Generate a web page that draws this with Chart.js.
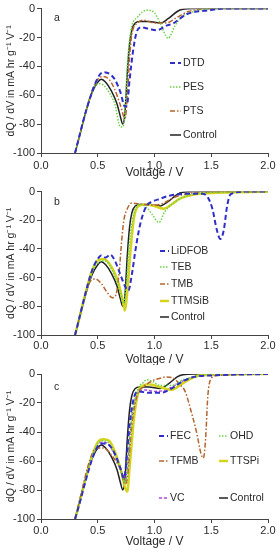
<!DOCTYPE html>
<html>
<head>
<meta charset="utf-8">
<script src="https://cdn.jsdelivr.net/npm/chart.js@4.4.1/dist/chart.umd.min.js"></script>
<style>
  body { margin: 0; background: #fff; }
  canvas { position: absolute; left: 0; }
</style>
</head>
<body>
<canvas id="chartA" width="279" height="183" style="top:0"></canvas>
<canvas id="chartB" width="279" height="182" style="top:183px"></canvas>
<canvas id="chartC" width="279" height="185" style="top:365px"></canvas>
<script>
// ─── Data (voltage, dQ/dV) ───────────────────────────
const xTicks = [0, 0.5, 1.0, 1.5, 2.0];
const yTicks = [0, -20, -40, -60, -80, -100];

const control = [[0.30,-100],[0.35,-85],[0.40,-70],[0.45,-58],[0.50,-51],[0.53,-49],[0.57,-51],[0.62,-57],[0.67,-66],[0.70,-75],[0.72,-80],[0.74,-72],[0.76,-45],[0.78,-25],[0.80,-15],[0.83,-10],[0.87,-9],[0.95,-9],[1.05,-10],[1.12,-7],[1.20,-2],[1.25,-0.5],[1.35,0],[2.0,0]];

// panel a
const dtd = [[0.30,-100],[0.40,-70],[0.50,-48],[0.55,-44],[0.60,-45],[0.65,-49],[0.70,-58],[0.74,-68],[0.76,-66],[0.78,-50],[0.81,-30],[0.84,-17],[0.88,-13],[0.95,-14],[1.02,-15],[1.10,-12],[1.17,-10],[1.28,-4],[1.50,-1],[1.6,0],[2.0,0]];
const pes = [[0.30,-100],[0.45,-58],[0.50,-52],[0.55,-53],[0.60,-58],[0.65,-66],[0.70,-82],[0.72,-82],[0.74,-72],[0.76,-40],[0.78,-22],[0.80,-12],[0.85,-6],[0.90,-2],[0.94,-1],[1.00,-3],[1.05,-10],[1.12,-20.5],[1.18,-12],[1.25,-5],[1.35,-2],[1.5,0],[2.0,0]];
const pts = [[0.30,-100],[0.45,-57],[0.50,-49],[0.55,-47],[0.60,-49],[0.65,-56],[0.70,-67],[0.74,-76],[0.76,-62],[0.78,-35],[0.80,-18],[0.85,-10],[0.90,-8],[1.00,-10],[1.10,-10],[1.20,-6],[1.30,-2],[1.5,0],[2.0,0]];

// panel b
const lidfob = [[0.30,-100],[0.45,-55],[0.50,-47],[0.53,-44.5],[0.57,-46],[0.61,-44],[0.65,-48],[0.70,-58],[0.74,-66],[0.77,-69],[0.80,-58],[0.83,-42],[0.86,-28],[0.89,-18],[0.93,-10],[0.98,-7],[1.05,-5],[1.12,-3],[1.20,-2],[1.30,-1.5],[1.42,-1.5],[1.47,-4],[1.51,-12],[1.55,-27],[1.58,-33],[1.61,-27],[1.64,-10],[1.67,-2],[1.8,0],[2.0,0]];
const teb = [[0.30,-100],[0.45,-56],[0.50,-50],[0.55,-48],[0.60,-51],[0.70,-70],[0.73,-78],[0.75,-66],[0.78,-35],[0.82,-15],[0.87,-9],[0.93,-11],[0.98,-16],[1.04,-21.5],[1.09,-14],[1.15,-9],[1.25,-4],[1.4,-1],[2.0,0]];
const tmb = [[0.30,-100],[0.38,-75],[0.43,-63],[0.48,-61],[0.53,-64],[0.58,-70],[0.63,-74],[0.66,-72],[0.69,-55],[0.71,-35],[0.73,-20],[0.76,-12],[0.80,-8],[0.90,-9],[1.00,-9.5],[1.08,-8],[1.15,-5],[1.25,-2],[1.4,-0.5],[2.0,0]];
const ttmsib = [[0.30,-100],[0.45,-55],[0.50,-48],[0.55,-47],[0.60,-50],[0.68,-63],[0.72,-76],[0.74,-83],[0.76,-70],[0.79,-40],[0.82,-18],[0.86,-10],[0.92,-9],[1.00,-10],[1.08,-12],[1.15,-9],[1.22,-5],[1.35,-2],[1.5,-1],[2.0,0]];

// panel c
const fec = [[0.30,-100],[0.50,-50],[0.55,-48],[0.60,-49],[0.65,-55],[0.70,-65],[0.73,-72],[0.75,-62],[0.78,-35],[0.82,-16],[0.86,-12],[0.95,-13],[1.05,-13],[1.15,-10],[1.25,-5],[1.35,-2],[1.5,-1],[2.0,0]];
const ohd = [[0.30,-100],[0.50,-48],[0.55,-46],[0.60,-48],[0.70,-66],[0.74,-75],[0.76,-65],[0.80,-30],[0.85,-11],[0.90,-6],[0.93,-4],[0.98,-5],[1.05,-8],[1.15,-8],[1.25,-4],[1.35,-2],[1.5,0],[2.0,0]];
const tfmb = [[0.30,-100],[0.45,-55],[0.50,-51],[0.55,-51],[0.60,-54],[0.70,-66],[0.74,-76],[0.76,-72],[0.80,-35],[0.85,-14],[0.90,-9],[0.95,-6],[1.00,-4],[1.05,-3],[1.10,-2],[1.17,-3],[1.22,-7],[1.27,-12],[1.32,-25],[1.37,-40],[1.41,-55],[1.43,-58],[1.45,-45],[1.47,-15],[1.50,-3],[1.55,-1],[2.0,0]];
const ttspi = [[0.30,-100],[0.50,-47],[0.55,-45],[0.60,-46],[0.70,-65],[0.74,-78],[0.76,-81],[0.78,-65],[0.82,-30],[0.86,-12],[0.90,-8],[0.95,-7],[1.05,-9],[1.15,-11],[1.20,-9],[1.30,-4],[1.4,-1],[2.0,0]];
const vc = [[0.30,-100],[0.50,-49],[0.55,-47],[0.60,-49],[0.70,-65],[0.74,-75],[0.76,-65],[0.80,-30],[0.85,-14],[0.92,-11],[1.00,-12],[1.10,-11],[1.20,-7],[1.30,-3],[1.45,-1],[2.0,0]];

// ─── Styles ──────────────────────────────────────────
const FONT = "'Liberation Sans', Arial, sans-serif";
const TXT = "#2a2a2a";
const styles = {
    blue:   { borderColor: "#2f2fc8", borderWidth: 2,   borderDash: [5, 3] },
    green:  { borderColor: "#6fd24a", borderWidth: 1.5, borderDash: [1.5, 1.5] },
    brown:  { borderColor: "#b4652e", borderWidth: 1.5, borderDash: [5, 2, 1.5, 2] },
    yellow: { borderColor: "#d4d41e", borderWidth: 2.5, borderDash: [] },
    purple: { borderColor: "#b048e0", borderWidth: 1.5, borderDash: [3, 2] },
    black:  { borderColor: "#222222", borderWidth: 1.5, borderDash: [] },
};

function ds(label, pts, style) {
    return Object.assign({
        label: label,
        data: pts.map((p) => ({ x: p[0], y: p[1] })),
        pointRadius: 0,
        fill: false,
        cubicInterpolationMode: "monotone",
    }, style);
}

// legend drawn inside the plot, like the spreadsheet original
const insideLegend = {
    id: "insideLegend",
    afterDatasetsDraw(chart, args, opts) {
        const ctx = chart.ctx;
        ctx.save();
        opts.items.forEach((it) => {
            const d = chart.data.datasets[it.i];
            ctx.beginPath();
            ctx.strokeStyle = d.borderColor;
            ctx.lineWidth = d.borderWidth;
            ctx.setLineDash(d.borderDash || []);
            ctx.moveTo(it.x, it.y);
            ctx.lineTo(it.x + opts.len, it.y);
            ctx.stroke();
            ctx.setLineDash([]);
            ctx.fillStyle = TXT;
            ctx.font = "10.5px " + FONT;
            ctx.textBaseline = "middle";
            ctx.fillText(d.label, it.x + opts.len + 2, it.y + 0.5);
        });
        ctx.font = "10.5px " + FONT;
        ctx.fillStyle = TXT;
        ctx.fillText(opts.tag, 54, opts.tagY);
        ctx.restore();
    },
};

function makeChart(id, datasets, p) {
    return new Chart(document.getElementById(id), {
        type: "line",
        data: { datasets: datasets },
        plugins: [insideLegend],
        options: {
            responsive: false, animation: false, devicePixelRatio: 1,
            layout: { padding: { top: p.top, right: 11, left: 0, bottom: 0 } },
            plugins: {
                legend: { display: false }, tooltip: { enabled: false },
                insideLegend: p.legend,
            },
            scales: {
                x: {
                    type: "linear", min: 0, max: 2,
                    afterBuildTicks: (s) => { s.ticks = xTicks.map((v) => ({ value: v })); },
                    ticks: { callback: (v) => v.toFixed(1), color: TXT, font: { family: FONT, size: 11 }, padding: p.tickPad, maxRotation: 0 },
                    grid: { drawOnChartArea: false, tickLength: 4, color: "#444" },
                    border: { color: "#444" },
                    title: { display: true, text: "Voltage / V", color: TXT, font: { family: FONT, size: 12 }, padding: { top: 0, bottom: p.titlePad } },
                    afterFit: (s) => { s.height = p.axisH; },
                },
                y: {
                    min: -100, max: 0,
                    afterBuildTicks: (s) => { s.ticks = yTicks.map((v) => ({ value: v })); },
                    ticks: { color: TXT, font: { family: FONT, size: 11 }, padding: 2 },
                    grid: { drawOnChartArea: false, tickLength: 4, color: "#444" },
                    border: { color: "#444" },
                    title: { display: true, text: "dQ / dV in mA hr g\u207B\u00B9 V\u207B\u00B9", color: TXT, font: { family: FONT, size: 10.5 }, padding: { top: 5, bottom: 0 } },
                    afterFit: (s) => { s.width = 41; },
                },
            },
        },
    });
}

makeChart("chartA", [
    ds("DTD", dtd, styles.blue),
    ds("PES", pes, styles.green),
    ds("PTS", pts, styles.brown),
    ds("Control", control, styles.black),
], {
    top: 7, axisH: 30, tickPad: 2.5, titlePad: 3.5,
    legend: { len: 11, tag: "a", tagY: 18, items: [
        { i: 0, x: 170, y: 63 }, { i: 1, x: 170, y: 87 },
        { i: 2, x: 170, y: 111 }, { i: 3, x: 170, y: 135 },
    ] },
});

makeChart("chartB", [
    ds("LiDFOB", lidfob, styles.blue),
    ds("TEB", teb, styles.green),
    ds("TMB", tmb, styles.brown),
    ds("TTMSiB", ttmsib, styles.yellow),
    ds("Control", control, styles.black),
], {
    top: 8, axisH: 30, tickPad: 0, titlePad: -1.5,
    legend: { len: 9, tag: "b", tagY: 19, items: [
        { i: 0, x: 160, y: 68 }, { i: 1, x: 160, y: 84 },
        { i: 2, x: 160, y: 101 }, { i: 3, x: 160, y: 118 },
        { i: 4, x: 160, y: 134 },
    ] },
});

makeChart("chartC", [
    ds("FEC", fec, styles.blue),
    ds("OHD", ohd, styles.green),
    ds("TFMB", tfmb, styles.brown),
    ds("TTSPi", ttspi, styles.yellow),
    ds("VC", vc, styles.purple),
    ds("Control", control, styles.black),
], {
    top: 9, axisH: 31, tickPad: 1, titlePad: 1.5,
    legend: { len: 9, tag: "c", tagY: 22, items: [
        { i: 0, x: 159, y: 71 }, { i: 1, x: 219, y: 71 },
        { i: 2, x: 159, y: 96 }, { i: 3, x: 219, y: 96 },
        { i: 4, x: 159, y: 133 }, { i: 5, x: 219, y: 133 },
    ] },
});
</script>
</body>
</html>
